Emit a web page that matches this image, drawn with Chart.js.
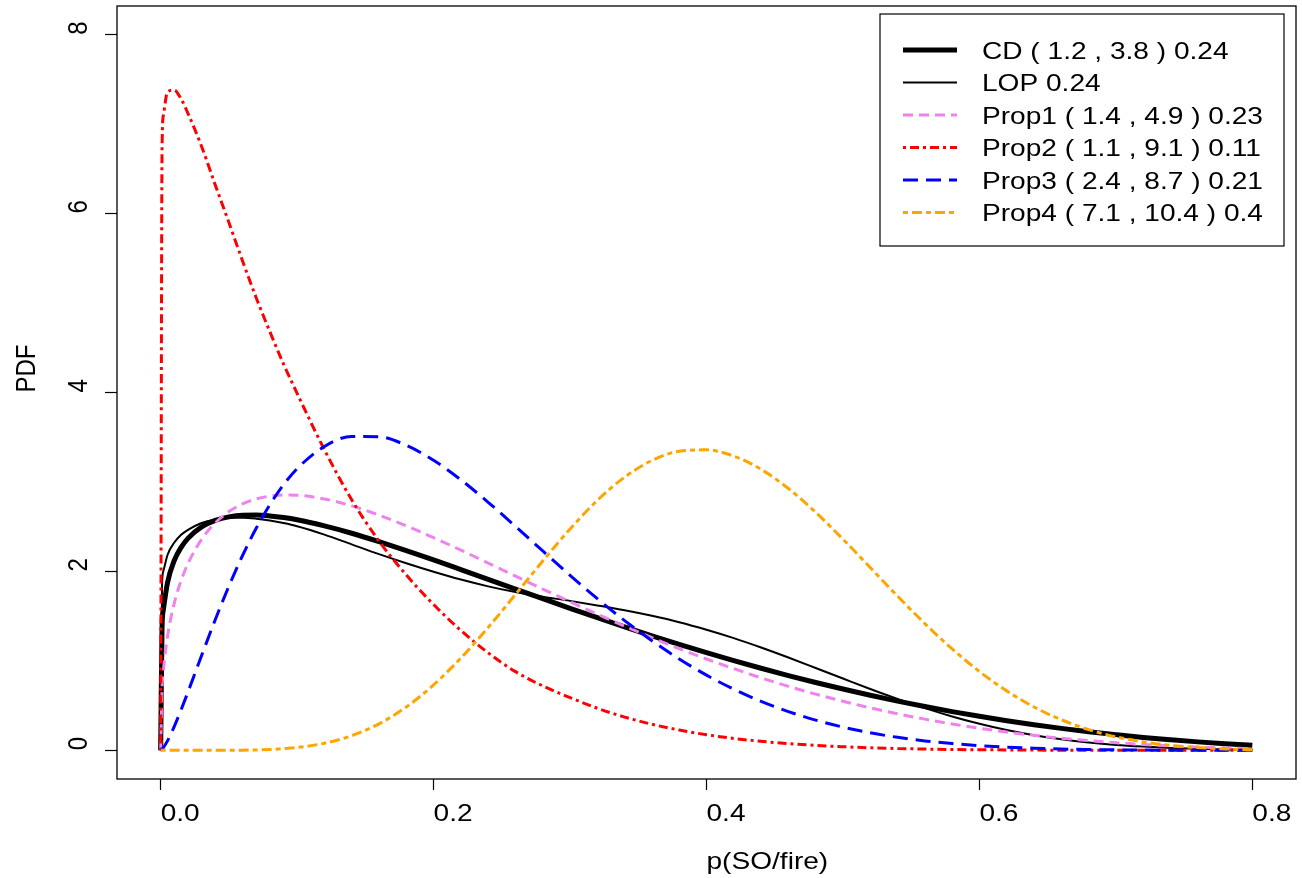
<!DOCTYPE html>
<html>
<head>
<meta charset="utf-8">
<title>PDF of p(SO/fire)</title>
<script src="https://cdn.jsdelivr.net/npm/chart.js@4.4.0/dist/chart.umd.min.js"></script>
<style>
  html, body { margin: 0; padding: 0; background: #fff; }
  #wrap { width: 1302px; height: 878px; }
</style>
</head>
<body>
<div id="wrap"><canvas id="pdf" width="1302" height="878"></canvas></div>
<script>
// x grid (p(SO/fire)) and the density
const xs = [0, 0.001, 0.002, 0.005, 0.01, 0.015, 0.02, 0.03, 0.04, 0.05, 0.06, 0.07, 0.08, 0.09, 0.10,
  0.12, 0.14, 0.16, 0.18, 0.20, 0.22, 0.24, 0.26, 0.28, 0.30, 0.32, 0.34, 0.36, 0.38, 0.40,
  0.42, 0.44, 0.46, 0.48, 0.50, 0.52, 0.54, 0.56, 0.58, 0.60, 0.62, 0.64, 0.66, 0.68, 0.70,
  0.72, 0.74, 0.76, 0.78, 0.80];

const cd = [0, 1.374, 1.574, 1.874, 2.123, 2.269, 2.370, 2.498, 2.570, 2.610, 2.628, 2.630, 2.620, 2.602, 2.577,
  2.509, 2.427, 2.333, 2.233, 2.129, 2.021, 1.912, 1.803, 1.695, 1.588, 1.483, 1.381, 1.281, 1.185, 1.092,
  1.003, 0.918, 0.836, 0.759, 0.686, 0.616, 0.551, 0.490, 0.433, 0.381, 0.332, 0.287, 0.246, 0.209, 0.176,
  0.145, 0.119, 0.095, 0.075, 0.058];

const lop = [0, 1.847, 2.005, 2.184, 2.323, 2.409, 2.465, 2.542, 2.581, 2.601, 2.601, 2.590, 2.569, 2.541, 2.506,
  2.412, 2.302, 2.193, 2.091, 1.996, 1.909, 1.833, 1.769, 1.717, 1.671, 1.620, 1.566, 1.504, 1.433, 1.349,
  1.255, 1.150, 1.038, 0.921, 0.803, 0.686, 0.575, 0.472, 0.379, 0.297, 0.227, 0.170, 0.124, 0.088, 0.061,
  0.042, 0.027, 0.017, 0.011, 0.007];

const prop1 = [0, 0.679, 0.893, 1.273, 1.647, 1.899, 2.088, 2.360, 2.543, 2.669, 2.755, 2.810, 2.842, 2.855, 2.852,
  2.810, 2.733, 2.630, 2.510, 2.377, 2.238, 2.094, 1.948, 1.803, 1.661, 1.522, 1.388, 1.260, 1.137, 1.021,
  0.913, 0.811, 0.716, 0.629, 0.549, 0.475, 0.409, 0.349, 0.295, 0.247, 0.205, 0.168, 0.136, 0.109, 0.086,
  0.066, 0.050, 0.037, 0.027, 0.019];

const prop2 = [0, 6.70, 7.10, 7.36, 7.38, 7.28, 7.12, 6.75, 6.32, 5.90, 5.47, 5.06, 4.68, 4.32, 3.99,
  3.36, 2.80, 2.34, 1.96, 1.63, 1.34, 1.09, 0.88, 0.72, 0.59, 0.471, 0.372, 0.292, 0.227, 0.175,
  0.133, 0.101, 0.076, 0.056, 0.041, 0.029, 0.021, 0.015, 0.010, 0.007, 0.005, 0.003, 0.002, 0.001, 0.001,
  0, 0, 0, 0, 0];

const prop3 = [0, 0.012, 0.030, 0.106, 0.268, 0.454, 0.652, 1.060, 1.460, 1.836, 2.178, 2.482, 2.745, 2.968, 3.149,
  3.397, 3.509, 3.505, 3.409, 3.242, 3.024, 2.773, 2.504, 2.229, 1.956, 1.695, 1.450, 1.225, 1.022, 0.841,
  0.684, 0.548, 0.434, 0.338, 0.260, 0.196, 0.146, 0.106, 0.076, 0.053, 0.036, 0.024, 0.015, 0.010, 0.006,
  0.003, 0.002, 0.001, 0.001, 0];

const prop4 = [0, 0, 0, 0, 0, 0, 0, 0, 0.0002, 0.001, 0.002, 0.005, 0.010, 0.019, 0.032,
  0.080, 0.164, 0.297, 0.485, 0.732, 1.032, 1.374, 1.742, 2.116, 2.474, 2.794, 3.054, 3.240, 3.344, 3.359,
  3.289, 3.141, 2.927, 2.661, 2.361, 2.043, 1.724, 1.417, 1.134, 0.881, 0.665, 0.485, 0.342, 0.232, 0.151,
  0.094, 0.055, 0.031, 0.016, 0.008];

const seriesLabels = ['CD ( 1.2 , 3.8 ) 0.24', 'LOP 0.24', 'Prop1 ( 1.4 , 4.9 ) 0.23',
  'Prop2 ( 1.1 , 9.1 ) 0.11', 'Prop3 ( 2.4 , 8.7 ) 0.21', 'Prop4 ( 7.1 , 10.4 ) 0.4'];

const xTicks = [0, 0.2, 0.4, 0.6, 0.8];
const xTickLabels = ['0.0', '0.2', '0.4', '0.6', '0.8'];
const yTicks = [0, 2, 4, 6, 8];
const yTickLabels = ['0', '2', '4', '6', '8'];

const FONT = '24px "Liberation Sans", Arial, sans-serif';
const SX = 1.17; // the picture's text is a bit wide

function pts(ys) {
  return xs.map(function(x, i) { return { x: x, y: ys[i] }; });
}

function line(label, ys, color, width, dash, order) {
  return {
    label: label,
    data: pts(ys),
    borderColor: color,
    borderWidth: width,
    borderDash: dash,
    borderCapStyle: 'butt',
    pointRadius: 0,
    fill: false,
    cubicInterpolationMode: 'monotone',
    order: order
  };
}

// stretched text, horizontal or turned up the page
function txt(ctx, s, x, y, vertical) {
  ctx.save();
  ctx.translate(x, y);
  if (vertical) {
    ctx.rotate(-Math.PI / 2);
    ctx.scale(1, SX);
  } else {
    ctx.scale(SX, 1);
  }
  ctx.fillText(s, 0, 0);
  ctx.restore();
}

const rFrame = {
  id: 'rFrame',
  afterDraw(chart) {
    const ctx = chart.ctx;
    const a = chart.chartArea;
    const sx = chart.scales.x, sy = chart.scales.y;
    ctx.save();
    ctx.strokeStyle = '#000';
    ctx.lineWidth = 1.3;
    ctx.setLineDash([]);
    ctx.strokeRect(a.left, a.top, a.right - a.left, a.bottom - a.top);

    ctx.fillStyle = '#000';
    ctx.font = FONT;
    ctx.textAlign = 'left';
    ctx.textBaseline = 'alphabetic';
    xTicks.forEach(function(v, i) {
      txt(ctx, xTickLabels[i], sx.getPixelForValue(v), a.bottom + 42, false);
    });
    yTicks.forEach(function(v, i) {
      txt(ctx, yTickLabels[i], a.left - 30, sy.getPixelForValue(v), true);
    });
    txt(ctx, 'p(SO/fire)', (a.left + a.right) / 2, a.bottom + 90, false);
    txt(ctx, 'PDF', 35, (a.top + a.bottom) / 2, true);

    // legend box, top right
    const lx = a.right - 416, ly = a.top + 8;
    ctx.lineWidth = 1.2;
    ctx.strokeRect(lx, ly, 404, 232);
    chart.data.datasets.forEach(function(ds, i) {
      const ry = ly + 36 + i * 32.5;
      ctx.save();
      ctx.strokeStyle = ds.borderColor;
      ctx.lineWidth = ds.borderWidth;
      ctx.setLineDash(ds.borderDash || []);
      ctx.beginPath();
      ctx.moveTo(lx + 23, ry);
      ctx.lineTo(lx + 77, ry);
      ctx.stroke();
      ctx.restore();
      txt(ctx, ds.label, lx + 102, ry + 8.5, false);
    });
    ctx.restore();
  }
};

new Chart(document.getElementById('pdf'), {
  type: 'line',
  data: {
    datasets: [
      line(seriesLabels[0], cd, '#000000', 5, [], 6),
      line(seriesLabels[1], lop, '#000000', 2, [], 5),
      line(seriesLabels[2], prop1, '#EE82EE', 3, [10, 6], 4),
      line(seriesLabels[3], prop2, '#FF0000', 3, [3, 4, 9, 4], 3),
      line(seriesLabels[4], prop3, '#0000FF', 3, [15, 8], 2),
      line(seriesLabels[5], prop4, '#FFA500', 3, [5, 4, 10, 4], 1)
    ]
  },
  options: {
    responsive: false,
    animation: false,
    layout: { padding: { left: 0, right: 6, top: 6, bottom: 0 } },
    plugins: {
      legend: { display: false },
      tooltip: { enabled: false }
    },
    scales: {
      x: {
        type: 'linear',
        min: -0.032,
        max: 0.832,
        afterBuildTicks: function(s) { s.ticks = xTicks.map(function(v) { return { value: v }; }); },
        afterFit: function(s) { s.height = 99; },
        border: { display: false },
        grid: { drawOnChartArea: false, drawTicks: true, tickLength: 11, tickColor: '#000', tickWidth: 1.2 },
        ticks: { display: false }
      },
      y: {
        type: 'linear',
        min: -0.32,
        max: 8.32,
        afterBuildTicks: function(s) { s.ticks = yTicks.map(function(v) { return { value: v }; }); },
        afterFit: function(s) { s.width = 117; },
        border: { display: false },
        grid: { drawOnChartArea: false, drawTicks: true, tickLength: 12, tickColor: '#000', tickWidth: 1.2 },
        ticks: { display: false }
      }
    }
  },
  plugins: [rFrame]
});
</script>
</body>
</html>
